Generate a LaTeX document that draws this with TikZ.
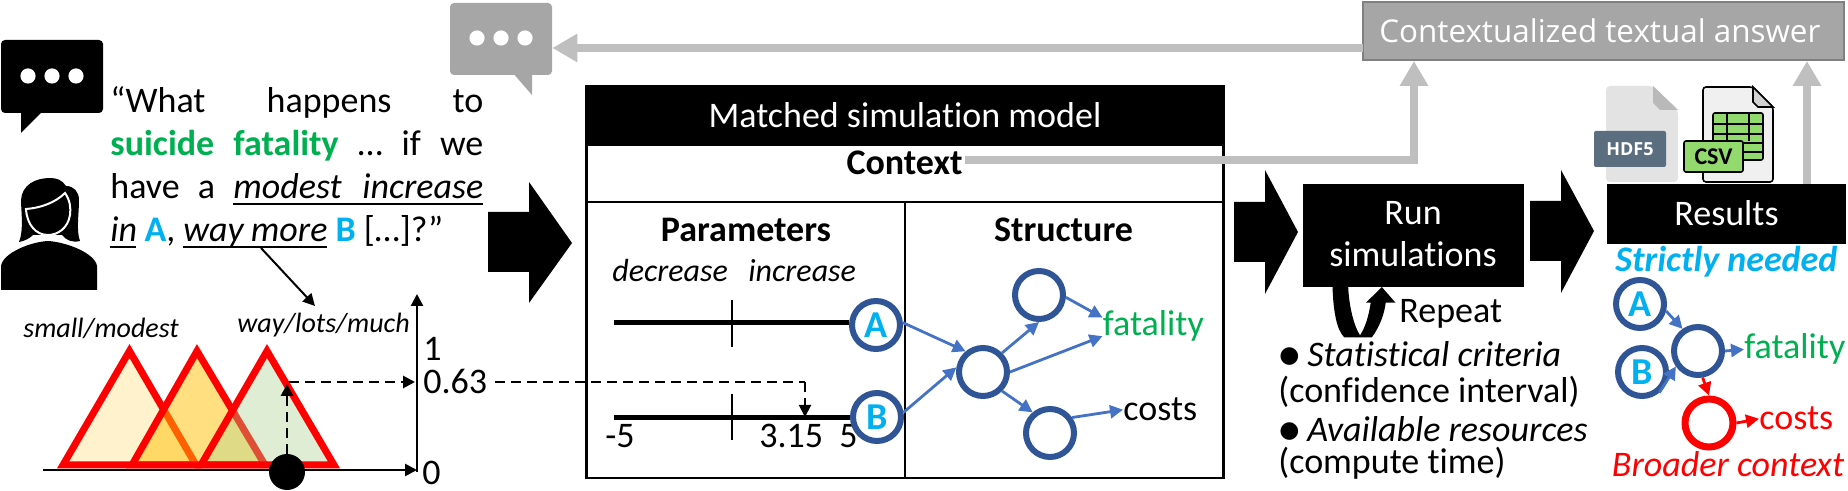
\documentclass[tikz,border=0pt]{standalone}
\usepackage{fontspec}
\usepackage{xcolor}
\usepackage{tikz}
\usetikzlibrary{automata,positioning,arrows.meta}
\setmainfont[Ligatures=NoCommon]{Carlito}
\newfontfamily\symfont{DejaVu Sans}
\newfontfamily\segfont{Open Sans}
\definecolor{mygreen}{RGB}{0,176,80}
\definecolor{myblue}{RGB}{47,85,151}
\definecolor{arrowblue}{RGB}{68,114,196}
\definecolor{mycyan}{RGB}{0,176,240}
\definecolor{mygray}{RGB}{166,166,166}
\definecolor{lightgray}{RGB}{191,191,191}
\definecolor{hdfblue}{RGB}{91,110,128}
\definecolor{csvgreen}{RGB}{146,217,110}
\definecolor{lowfill}{RGB}{255,242,204}
\newcommand{\ulbox}[2]{\makebox[#1][s]{#2}\llap{\rule[-3pt]{#1}{0.9pt}}}
\newcommand{\letter}[1]{\textcolor{mycyan}{\bfseries\fontsize{19}{22}\selectfont #1}}

\tikzset{
  every state/.style={draw=myblue, line width=3pt, minimum size=24pt, inner sep=0pt},
  txt/.style={inner sep=0pt, anchor=base west, font=\fontsize{18}{21}\selectfont},
  mid/.style={txt, anchor=base},
  small/.style={txt, font=\fontsize{14}{17}\selectfont\itshape},
  blackbox/.style={fill=black, text=white, inner sep=0pt, minimum width=#1},
  flow/.style={draw=arrowblue, line width=1.4pt, -{Triangle[length=6.5pt,width=6.5pt]}},
  redflow/.style={draw=red, line width=1.4pt, -{Triangle[length=6.5pt,width=6.5pt]}},
  back/.style={draw=lightgray, line width=4pt, -{Triangle[length=12.5pt,width=13.5pt]}},
  thin arrow/.style={line width=1.3pt, -{Triangle[length=6pt,width=6pt]}},
  dash arrow/.style={line width=1.4pt, dash pattern=on 5pt off 3pt, -{Triangle[length=6pt,width=6pt]}},
  fuzzy/.style={draw=red, line width=3.5pt, line join=miter},
}

\begin{document}
\begin{tikzpicture}[x=0.5pt, y=-0.5pt]
    \useasboundingbox (0,0) rectangle (1848,491);

    % speech bubbles
    \fill[rounded corners=2pt] (1,40) rectangle (103,113);
    \fill (21,108) -- (21,133) -- (41,113) -- cycle;
    \foreach \x in {28,52,76} \fill[white] (\x,76) circle (3.8pt);
    \node[fill=mygray, rounded corners=2pt, inner sep=0pt, minimum width=51pt, minimum height=36pt] (reply) at (501,39) {};
    \fill[mygray] (512,72) -- (532,95) -- (532,72) -- cycle;
    \foreach \x in {477,501,525} \fill[white] (\x,38) circle (3.8pt);

    % person
    \fill (19,242) .. controls (24,230) and (21,210) .. (21,200) .. controls (22,185) and (35,178) .. (50,178)
        .. controls (57,178) and (62,180) .. (66,186) .. controls (74,186) and (79,192) .. (79,200)
        .. controls (79,215) and (76,230) .. (80,241) .. controls (72,243) and (66,240) .. (62,235)
        -- (33,235) .. controls (30,238) and (25,241) .. (19,242) -- cycle;
    \fill (1,290) -- (1,266) .. controls (3,253) and (30,242) .. (48,241) .. controls (66,242) and (95,253) .. (97,266) -- (97,290) -- cycle;
    \draw[white, line width=1pt] (26,209) .. controls (40,208) and (55,203) .. (65,193) .. controls (70,200) and (71,208) .. (70,215)
        .. controls (68,228) and (58,235) .. (48,235) .. controls (36,235) and (27,225) .. (26,209) -- cycle;

    % question
    \node[txt] (Q1) at (110,113) {\makebox[186.5pt][s]{“What\hfill happens\hfill to}};
    \node[txt] (Q2) at (110,156) {\makebox[186.5pt][s]{\textcolor{mygreen}{\bfseries suicide}\hfill\textcolor{mygreen}{\bfseries fatality}\hfill …\hfill if\hfill we}};
    \node[txt] (Q3) at (110,199) {\makebox[186.5pt][s]{have\hfill a\hfill \ulbox{125pt}{\itshape modest\hfill increase}}};
    \node[txt] (Q4) at (110,242) {\ulbox{13pt}{\itshape in} \textcolor{mycyan}{\bfseries A}, \ulbox{72pt}{\itshape way\hfill more} \textcolor{mycyan}{\bfseries B} […]?”};

    % block arrows between the stages
    \foreach \xa/\xb/\xc/\ya/\yb/\yc/\yd/\ye in {488/529/572/182/212/243/272/303, 1234/1265/1298/170/202/232/262/294, 1530/1561/1594/170/201/231/261/293}
        \fill (\xa,\yb) -- (\xb,\yb) -- (\xb,\ya) -- (\xc,\yc) -- (\xb,\ye) -- (\xb,\yd) -- (\xa,\yd) -- cycle;

    % membership functions
    \draw[fuzzy, fill=lowfill] (129.5,351) -- (63,465) -- (196,465) -- cycle;
    \draw[fuzzy, fill={rgb,255:red,255;green,192;blue,0}, fill opacity=0.5] (197,351) -- (132,465) -- (265,465) -- cycle;
    \draw[fuzzy, fill={rgb,255:red,169;green,209;blue,142}, fill opacity=0.38, draw opacity=1] (267,351) -- (201,465) -- (334,465) -- cycle;
    \node[small] (low) at (23,338) {small/modest};
    \node[small] (high) at (237,333) {way/lots/much};
    \coordinate (O) at (417,470);
    \coordinate (X0) at (43,470);
    \coordinate (Y1) at (417,294);
    \coordinate (M0) at (289,382);
    \coordinate (M1) at (415,382);
    \coordinate (U) at (261,248);
    \coordinate (W) at (315,306);
    \draw[thin arrow] (X0) -- (O);
    \draw[thin arrow] ([yshift=-1pt]O) -- (Y1);
    \draw[thin arrow, line width=1pt] (U) -- (W);
    \node[circle, fill=black, inner sep=0pt, minimum size=18pt] (dot) at (287,472) {};
    \coordinate (P) at (287,384);
    \draw[dash arrow] (dot) -- (P);
    \draw[dash arrow] (M0) -- (M1);
    \node[txt] (one) at (423,361) {1};
    \node[txt] (val) at (423,394) {0.63};
    \node[txt] (zero) at (422,485) {0};

    % simulation model
    \node[draw, line width=1.25pt, inner sep=0pt, minimum width=318.5pt, minimum height=196pt] (model) at (905,282) {};
    \node[blackbox=318.5pt, minimum height=30pt, anchor=north] (head) at (905,86) {};
    \node[mid, text=white] (title) at (905,128) {Matched simulation model};
    \node[mid] (ctx) at (904.5,175) {\bfseries Context};
    \draw[line width=1.25pt] (586.5,202) -- (1223.5,202);
    \draw[line width=1.25pt] (905,202) -- (905,478);
    \node[mid] (par) at (746,242) {\bfseries Parameters};
    \node[mid] (str) at (1063.5,242) {\bfseries Structure};
    \node[small, font=\fontsize{16}{19}\selectfont\itshape] (dec) at (612,282) {decrease};
    \node[small, font=\fontsize{16}{19}\selectfont\itshape] (inc) at (748,282) {increase};

    % parameter ranges
    \node[txt] (lo) at (605,448) {-5};
    \node[txt] (v) at (759,448) {3.15};
    \node[txt] (hi) at (839,448) {5};
    \node[state, fill=white] (A) at (876,325) {\letter{A}};
    \node[state, fill=white] (B) at (877,417) {\letter{B}};
    \coordinate (A0) at (614,323);
    \coordinate (B0) at (614,418);
    \draw[line width=2.5pt] (A0) -- (A.west |- A0);
    \draw[line width=2.5pt] (B0) -- (B.west |- B0);
    \draw[line width=1.4pt] (732,300) -- (732,347);
    \draw[line width=1.4pt] (732,394) -- (732,440);
    \coordinate (M2) at (495,382);
    \coordinate (M3) at (805,382);
    \coordinate (M4) at (805,417);
    \draw[line width=1.4pt, dash pattern=on 5pt off 3pt] (M2) -- (M3);
    \draw[dash arrow, line width=1pt] (M3) -- (M4);

    % cause and effect graph
    \node[state] (M) at (983,372) {};
    \node[state] (T) [on grid, above right=38.5pt and 28pt of M] {};
    \node[state] (L) [on grid, below right=30.5pt and 33.5pt of M] {};
    \node[txt, text=mygreen] (F) at (1102.5,336) {fatality};
    \node[txt] (C) at (1123,421) {costs};
    \path (A.5) edge [flow] (M.130)
          (B.10) edge [flow] (M.170)
          (M.45) edge [flow] (T.-90)
          (M.-45) edge [flow] (L.130)
          (M.0) edge [flow] ([yshift=3pt]F.south west)
          (T.-5) edge [flow] ([yshift=-3.5pt]F.north west)
          (L.35) edge [flow] (C.west);

    % run stage
    \node[blackbox=110.5pt, minimum height=51.5pt, anchor=north west] (run) at (1303,184) {};
    \node[mid, text=white] (r1) at (1413,225) {Run};
    \node[mid, text=white] (r2) at (1413,267) {simulations};
    \fill (1332.5,287) .. controls (1333.3,310) and (1336.4,330) .. (1344.3,337.3) -- (1371.9,337.3)
        .. controls (1379.8,326.7) and (1384.5,313.3) .. (1385.7,302.7) -- (1395.5,302.7) -- (1381.8,287) -- (1366,302.7) -- (1370.7,302.7)
        .. controls (1368.7,316.7) and (1364.8,328.3) .. (1360,335.3) .. controls (1354.2,326.7) and (1349,306.7) .. (1348.2,287) -- cycle;
    \node[txt] (rep) at (1399,323) {Repeat};
    \node[txt, font=\fontsize{11.5}{14}\symfont] (b1) at (1279,363) {●};
    \node[txt, font=\fontsize{18}{21}\selectfont\itshape] (s1) at (1307,367) {Statistical criteria};
    \node[txt] (s2) at (1278,403) {(confidence interval)};
    \node[txt, font=\fontsize{11.5}{14}\symfont] (b2) at (1279,438) {●};
    \node[txt, font=\fontsize{18}{21}\selectfont\itshape] (s3) at (1307,442) {Available resources};
    \node[txt] (s4) at (1278,474) {(compute time)};

    % results
    \node[blackbox=119.5pt, minimum height=30pt, anchor=north west] (res) at (1607,184) {};
    \node[mid, text=white] (res txt) at (1726.5,226) {Results};
    \node[txt, text=mycyan, font=\fontsize{18}{21}\selectfont\bfseries\itshape] (need) at (1615,272) {Strictly needed};
    \node[state] (M') at (1698,351) {};
    \node[state] (A') [on grid, above left=23.5pt and 29pt of M'] {\letter{A}};
    \node[state] (B') [on grid, below left=10.5pt and 28pt of M'] {\letter{B}};
    \node[state, draw=red, line width=3.5pt] (R') [on grid, below right=36pt and 5.5pt of M'] {};
    \node[txt, text=mygreen] (F') at (1744,359) {fatality};
    \node[txt, text=red] (C') at (1759,430) {costs};
    \node[txt, text=red, font=\fontsize{18}{21}\selectfont\itshape] (ctx') at (1611.5,477) {Broader context};
    \path (A'.-15) edge [flow] (M'.125)
          (B'.-50) edge [flow] (M'.215)
          (M'.0) edge [flow] (F'.west)
          (M'.-80) edge [redflow] (R'.90)
          (R'.0) edge [redflow] (C'.west);

    % file icons
    \fill[rounded corners=2pt, gray!22] (1606,86) -- (1653,86) -- (1678,110) -- (1678,182) -- (1606,182) -- cycle;
    \fill[gray!55] (1653,86) -- (1678,110) -- (1660,110) -- (1653,103) -- cycle;
    \node[fill=hdfblue, rounded corners=1pt, inner sep=0pt, minimum width=36pt, minimum height=18pt, text=white, font=\fontsize{9}{11}\segfont\bfseries] (hdf) at (1630,149) {HDF5};
    \draw[line width=0.8pt, fill=gray!12, rounded corners=1.5pt] (1703,87) -- (1753,87) -- (1773,107) -- (1773,182) -- (1703,182) -- cycle;
    \draw[line width=0.8pt, fill=gray!35] (1753,87) -- (1753,102) -- (1758,107) -- (1773,107) -- cycle;
    \draw[line width=0.8pt, fill=csvgreen, rounded corners=1pt] (1713,113) rectangle (1763,160);
    \foreach \y in {124,134,143,152} \draw[line width=0.6pt] (1713,\y) -- (1763,\y);
    \foreach \x in {1727,1749} \draw[line width=0.6pt] (\x,113) -- (\x,141);
    \node[draw, line width=0.8pt, fill=csvgreen, rounded corners=1pt, inner sep=0pt, minimum width=29.5pt, minimum height=15.5pt, font=\fontsize{12}{14}\selectfont\bfseries] (csv) at (1713.5,156.5) {CSV};

    % answer and the lines feeding it
    \node[draw=gray, line width=1pt, fill=mygray, inner sep=0pt, minimum width=240.5pt, minimum height=29pt] (answer) at (1603.5,31) {};
    \node[txt, text=white, font=\fontsize{15.7}{18}\segfont] (ans) at (1379,43) {Contextualized textual answer};
    \coordinate (Z) at (1363,48);
    \coordinate (K) at (965,160);
    \coordinate (K1) at (1414,160);
    \coordinate (K2) at (1414,61);
    \coordinate (R0) at (1807,184);
    \coordinate (R1) at (1807,61);
    \draw[back] (Z) -- (reply.east |- Z);
    \draw[back] (K) -- (K1) -- (K2);
    \draw[back] (R0) -- (R1);
\end{tikzpicture}
\end{document}
